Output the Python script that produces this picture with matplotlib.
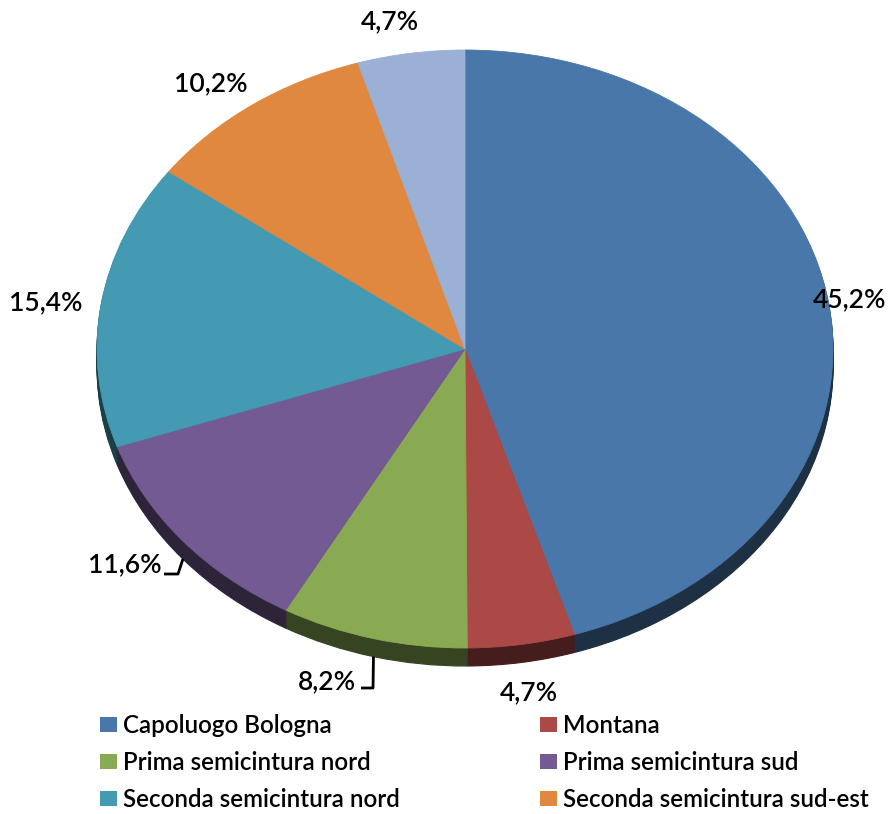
import matplotlib
matplotlib.use('Agg')
import matplotlib.pyplot as plt
import matplotlib.colors as mcolors
from matplotlib.patches import Rectangle
import numpy as np

plt.rcParams['font.family'] = ['Lato', 'DejaVu Sans']
plt.rcParams['font.weight'] = 'semibold'

# dati
zone = ['Capoluogo Bologna', 'Montana', 'Prima semicintura nord',
        'Prima semicintura sud', 'Seconda semicintura nord',
        'Seconda semicintura sud-est']
quote = [45.2, 4.7, 8.2, 11.6, 15.4, 10.2, 4.7]
colori = ['#4a77a9', '#aa4946', '#8aa953', '#735a92', '#439ab2', '#e0883f', '#9ab0d5']

W, H = 889, 814
fig = plt.figure(figsize=(W / 100, H / 100), dpi=100)
ax = fig.add_axes([0, 0, 1, 1])

# geometria della torta (pixel) -> coordinate dati
cx, cy, rx, ry, spessore = 465, 349, 368, 299, 18


def px(x, y):
    return (x - cx) / rx, (cy - y) / ry


depth = spessore / ry

# lato della torta (finto 3D): strati scuri spostati in basso
scuri = [tuple(c * 0.40 for c in mcolors.to_rgb(col)) for col in colori]
for k in np.linspace(depth, 0, 12)[:-1]:
    lati, _ = ax.pie(quote, colors=scuri, startangle=90, counterclock=False,
                     center=(0, -k), radius=1)
    for w in lati:
        w.set_edgecolor(w.get_facecolor())
        w.set_linewidth(0.8)

# superficie superiore
wedges, _ = ax.pie(quote, colors=colori, startangle=90, counterclock=False,
                   center=(0, 0), radius=1)
for w in wedges:
    w.set_edgecolor(w.get_facecolor())
    w.set_linewidth(0.6)

# etichette percentuali
pos_etichette = [(850, 300), (529, 693), (327, 682), (125, 565),
                 (46, 303), (211, 84), (390, 22)]
for q, (x, y) in zip(quote, pos_etichette):
    tx, ty = px(x, y)
    ax.text(tx, ty, f"{q:.1f}%".replace('.', ','), ha='center', va='center',
            fontsize=19, color='black')

# linee guida per le fette piccole
guide = {2: [(361, 688), (373, 688)], 3: [(164, 574), (178, 574)]}
cum = np.cumsum(quote)
for i, punti in guide.items():
    theta = np.radians(90 - 360 * (cum[i] - quote[i] / 2) / 100)
    xs = [px(*p)[0] for p in punti] + [np.cos(theta)]
    ys = [px(*p)[1] for p in punti] + [np.sin(theta) - depth]
    ax.plot(xs, ys, color='black', lw=2, solid_capstyle='butt')

ax.set_xlim(px(0, 0)[0], px(W, 0)[0])
ax.set_ylim(px(0, H)[1], px(0, 0)[1])
ax.set_aspect('auto')
ax.axis('off')

# legenda (ordine per righe come in Excel)
ordine = [0, 2, 4, 1, 3, 5]
handles = [Rectangle((0, 0), 1, 1, fc=colori[i], ec='none') for i in ordine]
fig.legend(handles, [zone[i] for i in ordine], ncol=2, frameon=False,
           loc='upper left', bbox_to_anchor=(100 / W, 1 - 714 / H),
           fontsize=17.4, borderpad=0, borderaxespad=0,
           handlelength=0.7, handleheight=0.62, handletextpad=0.25,
           columnspacing=5.8, labelspacing=0.58)

fig.savefig('out.png', dpi=100)
